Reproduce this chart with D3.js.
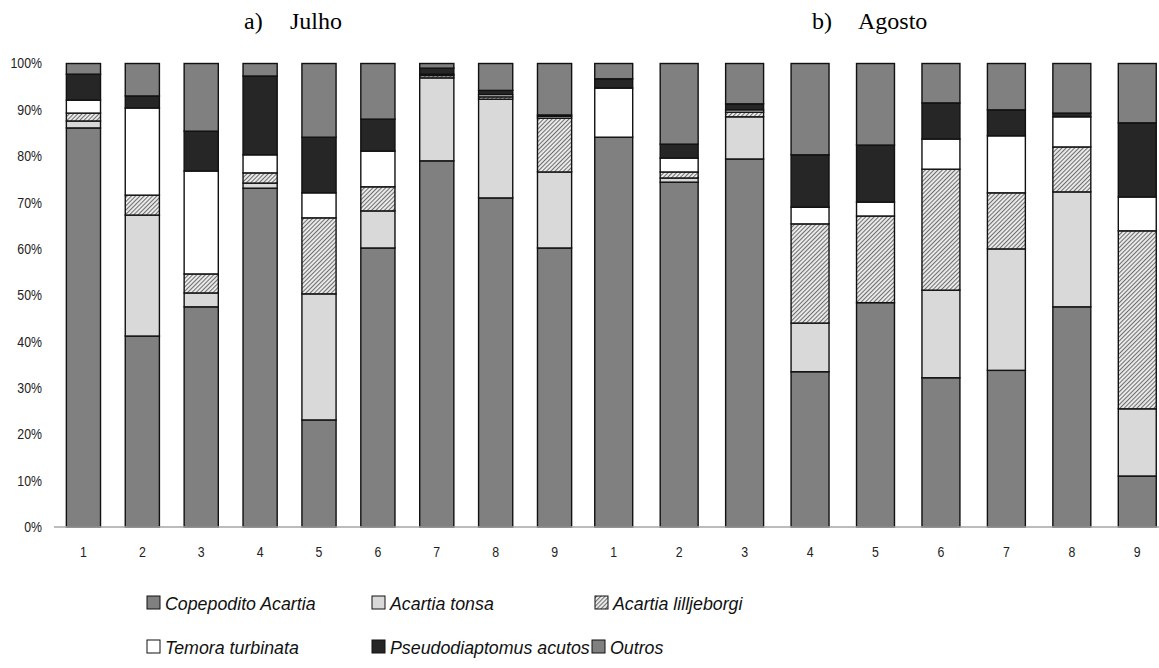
<!DOCTYPE html>
<html>
<head>
<meta charset="utf-8">
<script src="https://cdn.jsdelivr.net/npm/d3@7"></script>
<style>
  html, body { margin: 0; padding: 0; background: #fff; }
  svg { display: block; }
</style>
</head>
<body>
<svg id="chart" width="1159" height="668"></svg>
<script>
// ---------- DATA ----------
const categories = ["1", "2", "3", "4", "5", "6", "7", "8", "9"];
const seriesNames = ["Copepodito Acartia", "Acartia tonsa", "Acartia lilljeborgi",
                     "Temora turbinata", "Pseudodiaptomus acutos", "Outros"];
const yTickValues = [0, 10, 20, 30, 40, 50, 60, 70, 80, 90, 100];
const yTickLabels = ["0%", "10%", "20%", "30%", "40%", "50%", "60%", "70%", "80%", "90%", "100%"];

// a) Julho
const copepoditoJul = [86.1, 41.2, 47.5, 73.1, 23.1, 60.2, 79.0, 71.0, 60.2];
const tonsaJul      = [1.5, 26.1, 3.0, 1.1, 27.2, 8.0, 17.9, 21.3, 16.4];
const lilljeborgiJul= [1.7, 4.3, 4.1, 2.2, 16.4, 5.2, 0.5, 0.5, 11.6];
const temoraJul     = [2.8, 18.8, 22.2, 3.9, 5.4, 7.7, 0.3, 0.5, 0.4];
const pseudoJul     = [5.6, 2.6, 8.6, 17.0, 12.0, 6.9, 1.3, 0.9, 0.3];
const outrosJul     = [2.3, 7.0, 14.6, 2.7, 15.9, 12.0, 1.0, 5.8, 11.1];

// b) Agosto
const copepoditoAgo = [84.1, 74.4, 79.4, 33.5, 48.4, 32.2, 33.8, 47.5, 11.0];
const tonsaAgo      = [0.0, 0.9, 9.1, 10.5, 0.0, 18.9, 26.2, 24.8, 14.5];
const lilljeborgiAgo= [0.0, 1.3, 1.0, 21.4, 18.7, 26.1, 12.1, 9.7, 38.4];
const temoraAgo     = [10.6, 3.0, 0.5, 3.6, 3.0, 6.5, 12.3, 6.5, 7.3];
const pseudoAgo     = [2.0, 3.0, 1.3, 11.3, 12.3, 7.8, 5.6, 0.8, 16.0];
const outrosAgo     = [3.3, 17.4, 8.7, 19.7, 17.6, 8.5, 10.0, 10.7, 12.8];

// ---------- STYLE ----------
const fills = ["#808080", "#d9d9d9", "url(#hatch)", "#ffffff", "#262626", "#808080"];
const axisFont = "'Liberation Sans', Arial, sans-serif";
const serifFont = "'Liberation Serif', 'Times New Roman', serif";

const svg = d3.select("#chart");
const defs = svg.append("defs");
const pat = defs.append("pattern")
  .attr("id", "hatch").attr("patternUnits", "userSpaceOnUse")
  .attr("width", 3).attr("height", 3)
  .attr("patternTransform", "rotate(45)");
pat.append("rect").attr("width", 3).attr("height", 3).attr("fill", "#ececec");
pat.append("line").attr("x1", 0.5).attr("y1", 0).attr("x2", 0.5).attr("y2", 3)
  .attr("stroke", "#6e6e6e").attr("stroke-width", 1.1);

const y = d3.scaleLinear().domain([0, 100]).range([527, 63.5]);

function buildTable(cols) {
  return categories.map((c, i) => {
    const row = { cat: c };
    seriesNames.forEach((s, k) => { row[s] = cols[k][i]; });
    return row;
  });
}

function drawPanel(cols, x0, x1, label, labelX, name, nameX) {
  const x = d3.scaleBand().domain(categories).range([x0, x1])
    .paddingInner(0.42).paddingOuter(0.21);
  const stack = d3.stack().keys(seriesNames)(buildTable(cols));
  const g = svg.append("g");
  stack.forEach((layer, k) => {
    g.append("g").selectAll("rect").data(layer).join("rect")
      .attr("x", d => x(d.data.cat))
      .attr("y", d => y(d[1]))
      .attr("width", x.bandwidth())
      .attr("height", d => Math.max(0, y(d[0]) - y(d[1])))
      .attr("fill", fills[k])
      .attr("stroke", "#111")
      .attr("stroke-width", d => (d[1] - d[0]) > 0 ? 1.4 : 0);
  });
  // x tick labels
  const xa = svg.append("g").attr("transform", "translate(0,527)")
    .call(d3.axisBottom(x).tickSize(0).tickPadding(0));
  xa.select(".domain").remove();
  xa.selectAll("text")
    .attr("y", null).attr("dy", null)
    .attr("transform", "translate(0,30) scale(0.88,1)")
    .attr("font-family", axisFont).attr("font-size", 14).attr("fill", "#222");
  // title
  svg.append("text").attr("x", labelX).attr("y", 29)
    .attr("font-family", serifFont).attr("font-size", 24).attr("fill", "#000").text(label);
  svg.append("text").attr("x", nameX).attr("y", 29)
    .attr("font-family", serifFont).attr("font-size", 24).attr("fill", "#000").text(name);
}

drawPanel([copepoditoJul, tonsaJul, lilljeborgiJul, temoraJul, pseudoJul, outrosJul],
          54, 584, "a)", 244, "Julho", 290);
drawPanel([copepoditoAgo, tonsaAgo, lilljeborgiAgo, temoraAgo, pseudoAgo, outrosAgo],
          581, 1170, "b)", 812, "Agosto", 858);

// bottom axis line
svg.append("line").attr("x1", 54).attr("x2", 1159).attr("y1", y(0)).attr("y2", y(0))
  .attr("stroke", "#a6a6a6").attr("stroke-width", 1.3);

// y axis labels (left panel only)
const ya = svg.append("g").attr("transform", "translate(54,0)")
  .call(d3.axisLeft(y).tickValues(yTickValues).tickSize(0).tickPadding(0)
    .tickFormat((d, i) => yTickLabels[i]));
ya.select(".domain").remove();
ya.selectAll("text")
  .attr("x", null)
  .attr("transform", "translate(-12,0) scale(0.88,1)")
  .attr("font-family", axisFont).attr("font-size", 14).attr("fill", "#222");

// legend
const legendPos = [[147, 603], [372, 603], [595, 603], [147, 647], [372, 647], [592, 647]];
const lg = svg.append("g");
seriesNames.forEach((s, k) => {
  const [lx, ly] = legendPos[k];
  lg.append("rect").attr("x", lx).attr("y", ly - 7).attr("width", 13).attr("height", 13)
    .attr("fill", fills[k]).attr("stroke", "#111").attr("stroke-width", 1);
  lg.append("text").attr("x", lx + 18).attr("y", ly + 7)
    .attr("font-family", axisFont).attr("font-style", "italic")
    .attr("font-size", 17.8).attr("fill", "#111").text(s);
});
</script>
</body>
</html>
